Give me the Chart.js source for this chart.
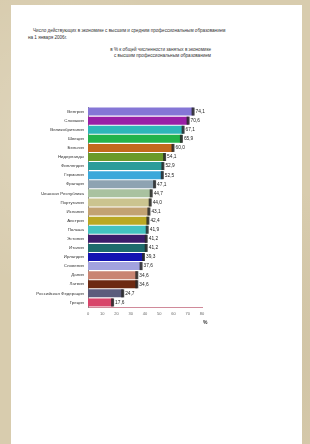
<!DOCTYPE html>
<html lang="ru">
<head>
<meta charset="utf-8">
<script src="https://cdn.jsdelivr.net/npm/chart.js@4.4.0/dist/chart.umd.min.js"></script>
<style>
  html,body{margin:0;padding:0;}
  body{width:310px;height:444px;overflow:hidden;position:relative;
    background:#d8ccae;
    background-image:radial-gradient(circle at 20% 30%,rgba(255,255,255,.18) 0,rgba(255,255,255,0) 40%),
                     radial-gradient(circle at 70% 80%,rgba(120,100,60,.12) 0,rgba(0,0,0,0) 45%);
    font-family:"Liberation Sans",Arial,sans-serif;}
  .page{position:absolute;left:11px;top:5px;width:291px;height:445px;background:#fff;}
  .t{position:absolute;color:#333;font-size:4.6px;line-height:6px;white-space:nowrap;}
  #wrap{position:absolute;left:25px;top:98px;width:190px;height:223px;}
  .pct{position:absolute;left:203px;top:319px;font-size:5px;font-weight:bold;color:#333;}
</style>
</head>
<body>
<div class="page"></div>
<div class="t" style="left:33px;top:28px;">Число действующих в экономике с высшим и средним профессиональным образованием</div>
<div class="t" style="left:28px;top:35px;">на 1 января 2006г.</div>
<div class="t" style="left:105px;top:47px;width:106px;text-align:right;">в % к общей численности занятых в экономике</div>
<div class="t" style="left:105px;top:53px;width:106px;text-align:right;">с высшим профессиональным образованием</div>
<div id="wrap"><canvas id="c"></canvas></div>
<div class="pct">%</div>
<script>
const categories = ['Венгрия','Словакия','Великобритания','Швеция','Бельгия','Нидерланды','Финляндия','Германия','Франция',
  'Чешская Республика','Португалия','Испания','Австрия','Польша','Эстония','Италия','Ирландия','Словения','Дания',
  'Латвия','Российская Федерация','Греция'];
const values = [74.1,70.6,67.1,65.9,60.0,54.1,52.9,52.5,47.1,44.7,44.0,43.1,42.4,41.9,41.2,41.2,39.3,37.6,34.6,34.6,24.7,17.6];
const barColors = ['#8576d6','#9a1fa6','#2fb6b8','#23b34a','#c2691c','#6b9a2a','#2b9c9a','#3aa8da','#8ea3b2','#a9c2a0',
  '#cbc48f','#c2a272','#b9a823','#43c2c0','#3b1b6b','#1d6b6c','#1313b2','#a2a2de','#c98472','#6d2a12','#5c5c7c','#d8456a'];
const xTicks = [0,10,20,30,40,50,60,70,80];

const valueLabels = {
  id:'valueLabels',
  afterDatasetsDraw(chart){
    const ctx = chart.ctx;
    const meta = chart.getDatasetMeta(0);
    ctx.save();
    ctx.font = '4.8px "Liberation Sans", Arial, sans-serif';
    ctx.fillStyle = '#222';
    ctx.textBaseline = 'middle';
    meta.data.forEach((bar,i)=>{
      ctx.fillStyle = 'rgba(40,40,40,0.85)';
      ctx.fillRect(bar.x-2, bar.y-bar.height/2, 3, bar.height);
      ctx.fillStyle = '#222';
      ctx.fillText(values[i].toFixed(1).replace('.',','), bar.x+2, bar.y);
    });
    ctx.restore();
  }
};

new Chart(document.getElementById('c'),{
  type:'bar',
  data:{labels:categories,datasets:[{data:values,backgroundColor:barColors,
    categoryPercentage:0.88,barPercentage:1,borderWidth:0}]},
  plugins:[valueLabels],
  options:{
    indexAxis:'y',responsive:true,maintainAspectRatio:false,animation:false,
    layout:{padding:{top:9,right:13,left:0,bottom:0}},
    plugins:{legend:{display:false},tooltip:{enabled:false}},
    scales:{
      x:{min:0,max:80,
        afterBuildTicks(s){ s.ticks = xTicks.map(v=>({value:v})); },
        afterFit(s){ s.height = 14; },
        grid:{display:false,drawTicks:true,tickLength:3,color:'#999'},
        border:{display:true,color:'#d08a9a',width:1},
        ticks:{font:{size:4},color:'#666',padding:1}},
      y:{afterFit(s){ s.width = 63; },
        grid:{display:false,tickLength:2},
        border:{display:true,color:'#888',width:1},
        ticks:{font:{size:4.4},color:'#333',padding:2,autoSkip:false}}
    }
  }
});
</script>
</body>
</html>
